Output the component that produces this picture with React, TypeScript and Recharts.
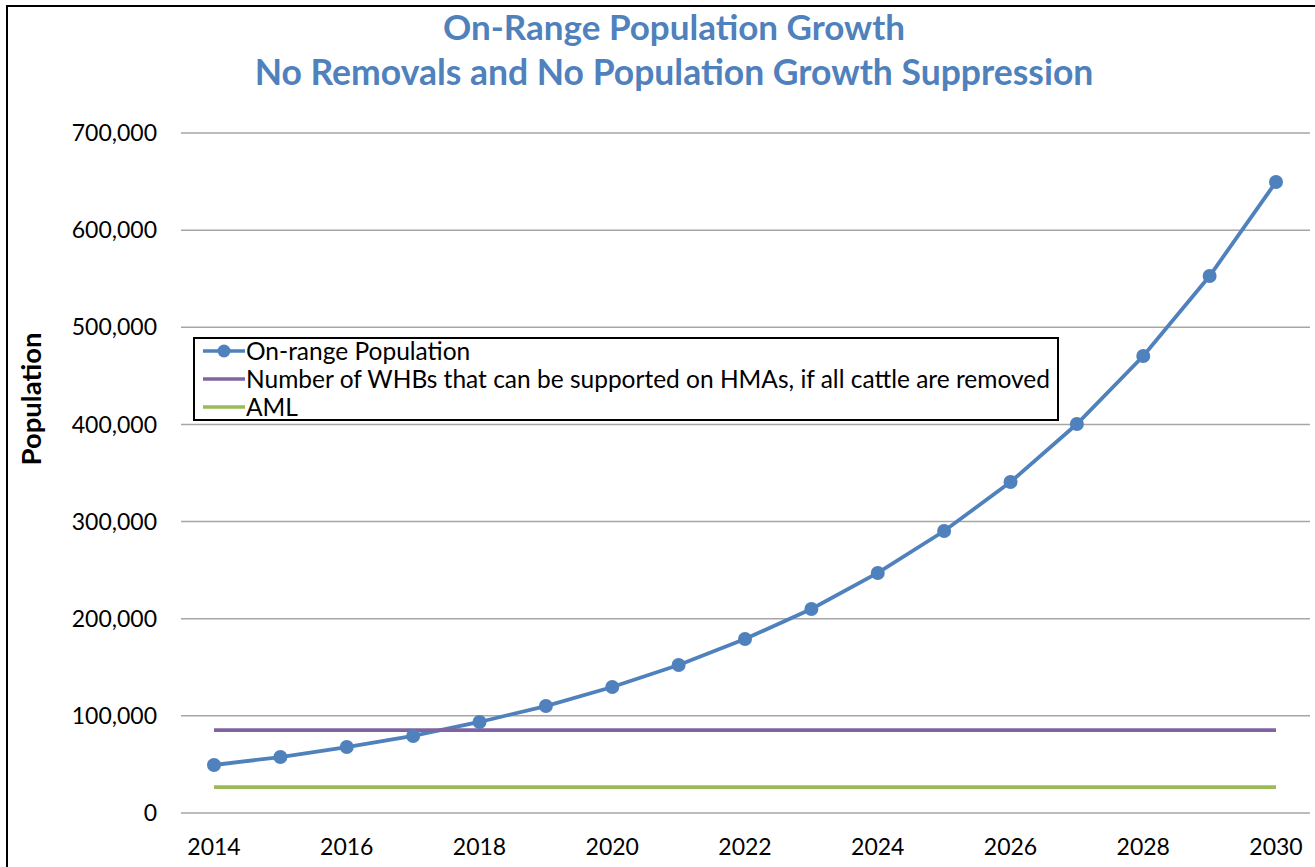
import React from "react";
import { LineChart, Line, XAxis, YAxis, CartesianGrid } from "recharts";

const years = [
  "2014", "2015", "2016", "2017", "2018", "2019", "2020", "2021", "2022",
  "2023", "2024", "2025", "2026", "2027", "2028", "2029", "2030",
];
const onRange = [
  49400, 57600, 67900, 79300, 93700, 110100, 129700, 152400, 179100,
  210000, 247100, 290300, 340700, 400400, 470400, 552800, 649600,
];
const supportable = 85400;
const aml = 26715;
const yTicks = [0, 100000, 200000, 300000, 400000, 500000, 600000, 700000];

const data = years.map((year, i) => ({
  year,
  onRange: onRange[i],
  supportable,
  aml,
}));

const FONT = "Lato, 'Open Sans', sans-serif";
const BLUE = "#4F81BD";
const PURPLE = "#8064A2";
const GREEN = "#9BBB59";

const series = [
  { key: "onRange", name: "On-range Population", color: BLUE, dot: true },
  {
    key: "supportable",
    name: "Number of WHBs that can be supported on HMAs, if all cattle are removed",
    color: PURPLE,
    dot: false,
  },
  { key: "aml", name: "AML", color: GREEN, dot: false },
];

export default function App() {
  return (
    <div
      style={{
        position: "absolute",
        left: 0,
        top: 0,
        width: 1315,
        height: 867,
        overflow: "hidden",
        background: "#fff",
      }}
    >
      <div
        style={{
          position: "absolute",
          left: 6,
          top: 5,
          width: 1400,
          height: 1000,
          borderLeft: "2px solid #000",
          borderTop: "2px solid #000",
        }}
      />
      <div
        style={{
          position: "absolute",
          left: 0,
          width: 1348,
          top: 3,
          textAlign: "center",
          fontFamily: FONT,
          fontWeight: 700,
          fontSize: 35,
          lineHeight: "46px",
          color: BLUE,
        }}
      >
        <div>On-Range Population Growth</div>
        <div style={{ fontSize: 35.5 }}>No Removals and No Population Growth Suppression</div>
      </div>
      <div
        style={{
          position: "absolute",
          left: 30,
          top: 399,
          transform: "translate(-50%, -50%) rotate(-90deg)",
          fontFamily: FONT,
          fontWeight: 700,
          fontSize: 27.5,
          color: "#000",
          whiteSpace: "nowrap",
        }}
      >
        Population
      </div>
      <LineChart
        width={1315}
        height={867}
        data={data}
        margin={{ top: 133, right: 5, bottom: 0, left: 0 }}
        style={{ position: "absolute", left: 0, top: 0 }}
      >
        <CartesianGrid vertical={false} stroke="#A6A6A6" strokeWidth={1.5} />
        <XAxis
          dataKey="year"
          interval={1}
          padding={{ left: 33, right: 34 }}
          axisLine={false}
          tickLine={false}
          height={54}
          tick={{ fontFamily: FONT, fontSize: 23, fill: "#000", dy: 18 }}
        />
        <YAxis
          width={181}
          domain={[0, 700000]}
          ticks={yTicks}
          axisLine={false}
          tickLine={false}
          tickMargin={18}
          tickFormatter={(v: number) => v.toLocaleString("en-US")}
          tick={{ fontFamily: FONT, fontSize: 23, fill: "#000" }}
        />
        {series.map((s) => (
          <Line
            key={s.key}
            dataKey={s.key}
            name={s.name}
            stroke={s.color}
            strokeWidth={3.8}
            dot={s.dot ? { r: 7, fill: s.color, stroke: s.color, strokeWidth: 0 } : false}
            isAnimationActive={false}
          />
        ))}
      </LineChart>
      {/* legend box over the plot, like the original */}
      <div
        style={{
          position: "absolute",
          left: 193,
          top: 337,
          width: 854,
          height: 80,
          border: "2px solid #000",
          background: "#fff",
          padding: "0 0 0 8px",
          boxSizing: "content-box",
          fontFamily: FONT,
          fontSize: 24.5,
          color: "#000",
          lineHeight: "28px",
        }}
      >
        {series.map((s) => (
          <div key={s.key} style={{ display: "flex", alignItems: "center", height: 28, marginTop: s.key === "onRange" ? -2 : 0 }}>
            <svg width={42} height={16} style={{ marginRight: 1, flex: "none" }}>
              <line x1={0} y1={8} x2={42} y2={8} stroke={s.color} strokeWidth={3.5} />
              {s.dot && <circle cx={21} cy={8} r={6.5} fill={s.color} />}
            </svg>
            <span style={{ whiteSpace: "nowrap" }}>{s.name}</span>
          </div>
        ))}
      </div>
    </div>
  );
}
